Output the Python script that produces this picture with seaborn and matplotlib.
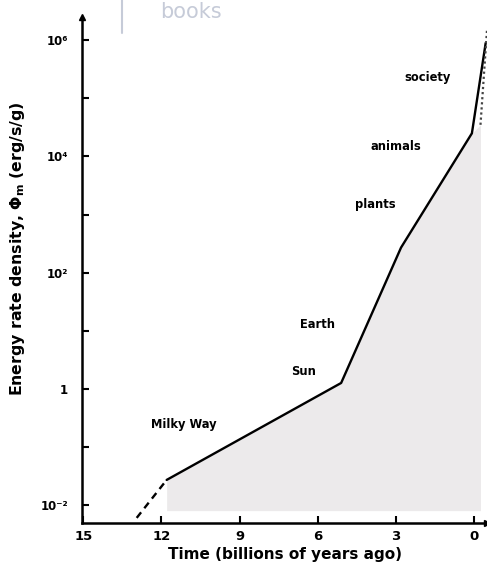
import numpy as np
import pandas as pd
import matplotlib
matplotlib.use("Agg")
import matplotlib.pyplot as plt
import seaborn as sns
from matplotlib.ticker import FixedLocator, NullFormatter, FixedFormatter

# ---- data ----
time_solid = [11.8, 5.1, 2.8, 0.08, -0.45]          # billions of years ago
phi_solid = [2.7e-2, 1.26, 2.7e2, 2.5e4, 9.0e5]     # erg/s/g
time_dashed = [12.95, 11.8]
phi_dashed = [6.0e-3, 2.7e-2]
time_dotted = [-0.25, -0.5]
phi_dotted = [3.5e4, 1.5e6]
fill_floor = 8.0e-3

label_names = ["society", "animals", "plants", "Earth", "Sun", "Milky Way"]
label_time = [1.8, 3.0, 3.8, 6.0, 6.55, 11.15]
label_phi = [2.3e5, 1.5e4, 1.5e3, 13.0, 2.0, 0.24]

x_ticks = [15, 12, 9, 6, 3, 0]
y_major = [1e-2, 1, 1e2, 1e4, 1e6]
y_major_labels = ["10⁻²", "1", "10²", "10⁴", "10⁶"]
y_minor = [1e-1, 1e1, 1e3, 1e5]

sns.set_style("ticks")
plt.rcParams["font.family"] = ["DejaVu Sans"]
plt.rcParams["text.color"] = "black"
plt.rcParams["axes.labelcolor"] = "black"
plt.rcParams["xtick.color"] = "black"
plt.rcParams["ytick.color"] = "black"

fig = plt.figure(figsize=(4.87, 5.8), dpi=100)
ax = fig.add_axes([82 / 487, 57 / 580, 405 / 487, 506 / 580])

df_solid = pd.DataFrame({"t": time_solid, "phi": phi_solid})
df_dash = pd.DataFrame({"t": time_dashed, "phi": phi_dashed})
df_dot = pd.DataFrame({"t": time_dotted, "phi": phi_dotted})

# shaded region under the curve
fill_t = [t for t in time_solid if t >= 0] + [time_dotted[0]]
fill_p = [p for t, p in zip(time_solid, phi_solid) if t >= 0] + [phi_dotted[0]]
ax.fill_between(fill_t, fill_p, fill_floor, color="#eceaeb", lw=0, zorder=1)

sns.lineplot(data=df_solid, x="t", y="phi", ax=ax, color="black", lw=1.7,
             sort=False, estimator=None, zorder=3)
sns.lineplot(data=df_dash, x="t", y="phi", ax=ax, color="black", lw=1.7,
             sort=False, estimator=None, zorder=3, linestyle=(0, (3, 2.2)))
sns.lineplot(data=df_dot, x="t", y="phi", ax=ax, color="#444444", lw=1.6,
             sort=False, estimator=None, zorder=3, linestyle=(0, (1, 1.3)))

ax.set_yscale("log")
ax.set_ylim(10 ** -2.31, 10 ** 6.4)
ax.set_xlim(15.05, -0.5)

ax.yaxis.set_major_locator(FixedLocator(y_major))
ax.yaxis.set_major_formatter(FixedFormatter(y_major_labels))
ax.yaxis.set_minor_locator(FixedLocator(y_minor))
ax.yaxis.set_minor_formatter(NullFormatter())
ax.set_xticks(x_ticks)
ax.set_xticklabels([str(v) for v in x_ticks])

ax.tick_params(axis="both", which="both", direction="in", length=5, width=1.5,
               color="black", labelcolor="black")
ax.tick_params(axis="y", labelsize=8.5, pad=10)
ax.tick_params(axis="x", labelsize=9.5, pad=5)
for lab in ax.get_xticklabels() + ax.get_yticklabels():
    lab.set_fontweight("bold")

for side in ["top", "right"]:
    ax.spines[side].set_visible(False)
for side in ["left", "bottom"]:
    ax.spines[side].set_linewidth(1.8)
    ax.spines[side].set_color("black")

# axis arrows
ax.plot(0, 1, marker="^", color="black", markersize=5, transform=ax.transAxes,
        clip_on=False)
ax.plot(1, 0, marker=">", color="black", markersize=5, transform=ax.transAxes,
        clip_on=False)

for name, t, p in zip(label_names, label_time, label_phi):
    ax.text(t, p, name, fontsize=8.3, fontweight="bold", ha="center",
            va="center", zorder=4, color="black")

ax.set_xlabel("Time (billions of years ago)", fontsize=11, fontweight="bold",
              labelpad=3)
ax.set_ylabel("Energy rate density, Φ$_{\\mathbf{m}}$ (erg/s/g)", fontsize=11.3,
              fontweight="bold")
ax.yaxis.set_label_coords(-0.135, 0.543)

# publisher watermark from the scan
fig.text(160 / 487, 1 - 22 / 580, "books", fontsize=15, color="#c6cbd8",
         ha="left", va="bottom")
fig.add_artist(plt.Line2D([122 / 487, 122 / 487], [1.0, 1 - 33 / 580],
                          color="#c6cbd8", lw=1.5))

fig.savefig("out.png", dpi=100)
